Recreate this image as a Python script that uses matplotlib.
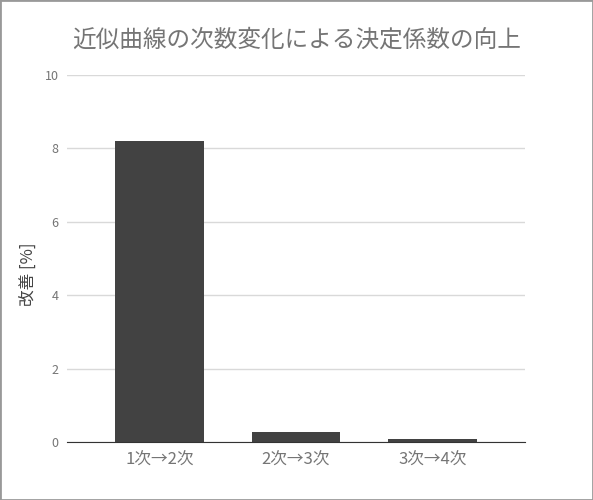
import matplotlib.pyplot as plt

plt.rcParams['font.family'] = ['Noto Sans CJK JP', 'DejaVu Sans']

# data
labels = ["1次→2次", "2次→3次", "3次→4次"]
improve = [8.19, 0.27, 0.08]
yticks = [0, 2, 4, 6, 8, 10]

fig = plt.figure(figsize=(5.93, 5.0), dpi=100)
ax = fig.add_axes([67/593, 1 - 442/500, 458/593, 367/500])

x = range(len(labels))
ax.bar(x, improve, width=0.65, color="#424242", zorder=3)

ax.set_xlim(-0.678, 2.678)
ax.set_ylim(0, 10)
ax.set_yticks(yticks)
ax.set_xticks(list(x))
ax.set_xticklabels(labels, fontsize=12, color="#757575")
ax.tick_params(axis="y", labelsize=9, colors="#757575", length=0, pad=6)
ax.tick_params(axis="x", length=0, pad=7)

ax.grid(axis="y", color="#d9d9d9", linewidth=1, zorder=0)
for s in ["top", "right", "left"]:
    ax.spines[s].set_visible(False)
ax.spines["bottom"].set_color("#333333")
ax.spines["bottom"].set_zorder(4)

ax.set_ylabel("改善 [%]", fontsize=12, color="#444444")
ax.yaxis.set_label_coords(-0.065, 0.458)
fig.text(0.5, 1 - 40/500, "近似曲線の次数変化による決定係数の向上",
         ha="center", va="center", fontsize=17, color="#757575")

# outer border
fig.patches.append(plt.Rectangle((0, 0), 1, 1, transform=fig.transFigure,
                                 fill=False, edgecolor="#999999", linewidth=2))

fig.savefig("out.png", dpi=100)
